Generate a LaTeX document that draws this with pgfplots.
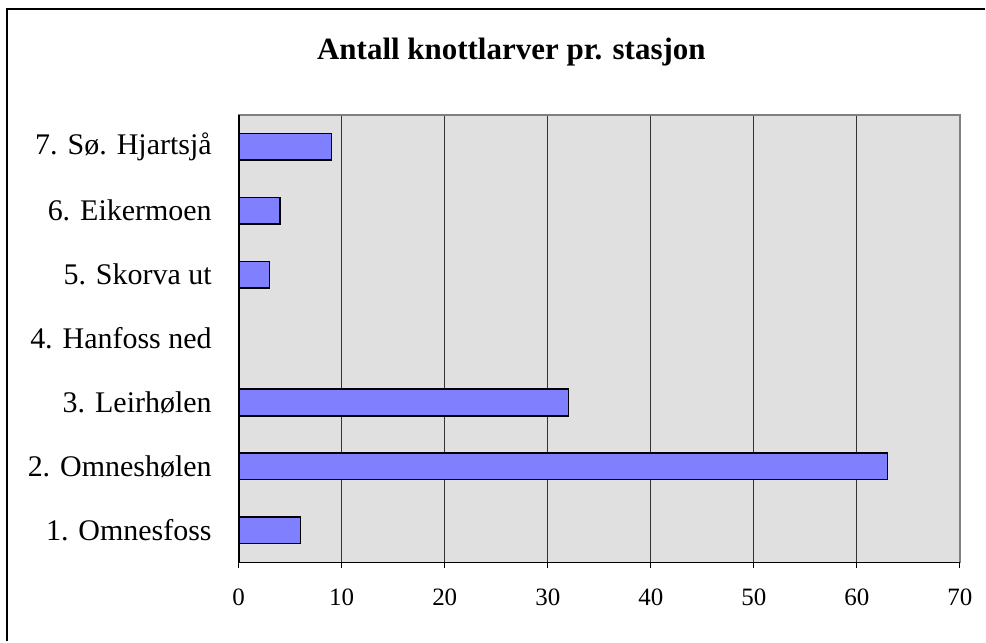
\documentclass[border=0pt]{standalone}
\usepackage{pgfplots}
\pgfplotsset{compat=1.18}
\usepackage{fontspec}
\setmainfont{Liberation Serif}
\definecolor{plotbg}{RGB}{224,224,224}
\definecolor{barfill}{RGB}{128,128,255}
\begin{document}
\begin{tikzpicture}
\path (0pt,0pt) rectangle (493pt,321pt);
\draw[line width=1.2pt] (3.5pt,0pt) -- (3.5pt,316.5pt) -- (493pt,316.5pt);
\node[font=\fontsize{15.5}{18}\selectfont\bfseries] at (256pt,295pt) {Antall knottlarver pr. stasjon};
\begin{axis}[
  at={(119.5pt,39.5pt)}, anchor=south west,
  scale only axis, width=361pt, height=224pt,
  xbar, bar width=13.3pt,
  xmin=0, xmax=70, ymin=0.5, ymax=7.5,
  xtick={0,10,...,70},
  ytick={1,...,7},
  yticklabels={1. Omnesfoss,2. Omneshølen,3. Leirhølen,4. Hanfoss ned,5. Skorva ut,6. Eikermoen,7. Sø. Hjartsjå},
  minor ytick={0.5,1.5,...,7.5},
  xtick pos=bottom, ytick pos=left,
  major tick length=3pt,
  minor tick length=3pt,
  tick align=outside,
  tick style={black, line width=0.6pt},
  y tick style={draw=none},
  minor y tick style={black, line width=0.6pt},
  xmajorgrids, grid style={black!80, line width=0.5pt},
  axis background/.style={fill=plotbg},
  axis line style={draw=gray, line width=0.8pt},
  yticklabel style={font=\fontsize{15}{18}\selectfont, xshift=-7pt},
  xticklabel style={font=\fontsize{12.5}{15}\selectfont, yshift=-7pt},
  /pgf/number format/assume math mode=true,
  clip=false,
]
\addplot[fill=barfill, draw=black, line width=0.75pt] coordinates {
  (6,1) (63,2) (32,3) (0,4) (3,5) (4,6) (9,7)
};
\draw[black, line width=0.8pt] (rel axis cs:0,1) -- (rel axis cs:0,0) -- (rel axis cs:1,0);
\end{axis}
\end{tikzpicture}
\end{document}
